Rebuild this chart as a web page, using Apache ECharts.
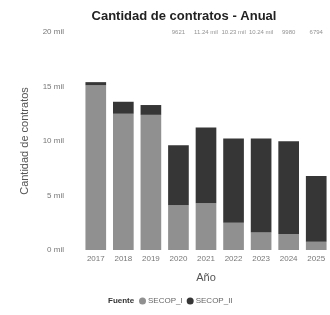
<!DOCTYPE html>
<html>
<head>
<meta charset="utf-8">
<title>Cantidad de contratos - Anual</title>
<script src="https://cdn.jsdelivr.net/npm/echarts@6/dist/echarts.min.js"></script>
<style>
  html, body { height: 100%; margin: 0; background: #fff; }
</style>
</head>
<body>
<div id="main" style="width:330px;height:315px;"></div>
<script>
// datos por año
var years = ['2017', '2018', '2019', '2020', '2021', '2022', '2023', '2024', '2025'];
var secopI = [15100, 12500, 12400, 4100, 4300, 2500, 1600, 1470, 760];
var secopII = [300, 1100, 900, 5521, 6940, 7730, 8640, 8510, 6034];
var topLabels = ['', '', '', '9621', '11.24 mil', '10.23 mil', '10.24 mil', '9980', '6794'];
var yTicks = [0, 5000, 10000, 15000, 20000];

var yMax = yTicks[yTicks.length - 1];
var font = 'Liberation Sans';

var myChart = echarts.init(document.getElementById('main'));
var option = {
  animation: false,
  textStyle: { fontFamily: font },
  title: [{
    text: 'Cantidad de contratos - Anual',
    left: 179, top: 5, textAlign: 'center',
    textStyle: { fontSize: 13, fontWeight: 'bold', color: '#222', fontFamily: font }
  }, {
    text: 'Fuente',
    left: 103, top: 292,
    textStyle: { fontSize: 8, fontWeight: 'bold', color: '#333', fontFamily: font }
  }],
  legend: {
    left: 134, top: 292,
    icon: 'circle', itemWidth: 7, itemHeight: 7, itemGap: 4,
    textStyle: { fontSize: 8, color: '#666', padding: [0, 0, 0, -3] },
    data: ['SECOP_I', 'SECOP_II']
  },
  grid: { left: 82, top: 32, bottom: 65, width: 252 },
  xAxis: {
    type: 'category',
    data: years,
    name: 'Año', nameLocation: 'middle', nameGap: 22,
    nameTextStyle: { fontSize: 11, color: '#555' },
    axisLine: { show: false }, axisTick: { show: false },
    axisLabel: { fontSize: 8, color: '#777', margin: 5 }
  },
  yAxis: {
    type: 'value', min: 0, max: yMax, interval: 5000,
    name: 'Cantidad de contratos', nameLocation: 'middle', nameGap: 52,
    nameTextStyle: { fontSize: 11, color: '#555' },
    axisLine: { show: false }, axisTick: { show: false },
    splitLine: { show: false },
    axisLabel: {
      fontSize: 8, color: '#777', margin: 18,
      formatter: function (v) { return (v / 1000) + ' mil'; }
    }
  },
  series: [{
    name: 'SECOP_I', type: 'bar', stack: 'total',
    data: secopI, barCategoryGap: '25%',
    itemStyle: { color: '#909090' }
  }, {
    name: 'SECOP_II', type: 'bar', stack: 'total',
    data: secopII,
    itemStyle: { color: '#363636' }
  }, {
    // etiquetas de total en la parte superior
    type: 'scatter', symbolSize: 0, silent: true,
    data: topLabels.map(function (t) { return t ? yMax : null; }),
    label: {
      show: true, position: 'inside', fontSize: 6, color: '#777',
      formatter: function (p) { return topLabels[p.dataIndex]; }
    }
  }]
};
myChart.setOption(option);
</script>
</body>
</html>
